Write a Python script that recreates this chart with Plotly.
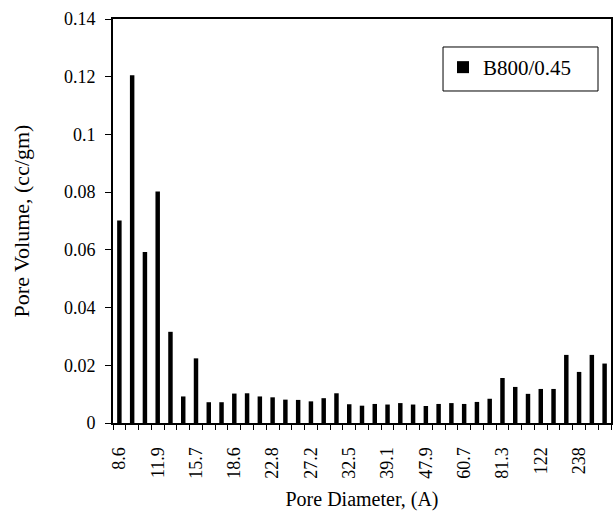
import plotly.graph_objects as go

# Pore diameters (A); only every third label is readable, others estimated
diameters = ["8.6", "9.6", "10.7", "11.9", "13.0", "14.3", "15.7", "16.6", "17.6",
             "18.6", "20.0", "21.3", "22.8", "24.2", "25.6", "27.2", "29.0", "30.7",
             "32.5", "34.6", "36.8", "39.1", "41.9", "44.8", "47.9", "51.9", "56.1",
             "60.7", "66.8", "73.6", "81.3", "93.2", "106", "122", "151", "190",
             "238", "310", "400"]
shown_labels = ["8.6", "11.9", "15.7", "18.6", "22.8", "27.2", "32.5", "39.1",
                "47.9", "60.7", "81.3", "122", "238"]
pore_volume = [0.0702, 0.1205, 0.0593, 0.0802, 0.0316, 0.0092, 0.0224, 0.0072, 0.0072,
               0.0102, 0.0103, 0.0092, 0.0089, 0.0081, 0.0080, 0.0075, 0.0086, 0.0103,
               0.0065, 0.0060, 0.0066, 0.0064, 0.0069, 0.0064, 0.0059, 0.0066, 0.0069,
               0.0066, 0.0073, 0.0084, 0.0156, 0.0125, 0.0101, 0.0118, 0.0118, 0.0236,
               0.0177, 0.0236, 0.0206]
series_name = "B800/0.45"

FONT = "Liberation Serif"

fig = go.Figure()
fig.add_trace(go.Bar(x=diameters, y=pore_volume, name=series_name,
                     marker=dict(color="black", line=dict(width=0)),
                     showlegend=True))

ticktext = [d if d in shown_labels else "" for d in diameters]

# legend frame (paper coordinates)
fig.add_shape(type="rect", xref="paper", yref="paper",
              x0=0.6627, x1=0.9739, y0=0.8218, y1=0.9307,
              line=dict(color="black", width=1), fillcolor="white", layer="above")

fig.update_layout(
    width=613, height=511,
    margin=dict(l=113, r=2, t=19, b=88),
    paper_bgcolor="white", plot_bgcolor="white",
    font=dict(family=FONT, color="black", size=18),
    bargap=0.65,
    showlegend=True,
    legend=dict(x=0.6627, y=0.9307, xanchor="left", yanchor="top",
                borderwidth=0, bgcolor="rgba(0,0,0,0)",
                font=dict(family=FONT, size=21, color="black")),
    xaxis=dict(type="category", tickmode="array", tickvals=diameters, ticktext=ticktext,
               tickson="boundaries", ticks="outside", ticklen=5, tickwidth=1,
               tickcolor="black", tickangle=-90, ticklabelstandoff=15,
               showline=True, linecolor="black", linewidth=2, mirror=True,
               showgrid=False, zeroline=False,
               tickfont=dict(family=FONT, size=18),
               title=dict(text="Pore Diameter, (A)", font=dict(family=FONT, size=20),
                          standoff=14),
               automargin=False),
    yaxis=dict(range=[0, 0.14], dtick=0.02, tick0=0, ticks="outside", ticklen=6,
               tickwidth=1, tickcolor="black", ticklabelstandoff=6,
               showline=True, linecolor="black", linewidth=2, mirror=True,
               showgrid=False, zeroline=False,
               tickfont=dict(family=FONT, size=18),
               title=dict(text="Pore Volume, (cc/gm)", font=dict(family=FONT, size=22),
                          standoff=28),
               automargin=False),
)

fig.write_html("out.html")
